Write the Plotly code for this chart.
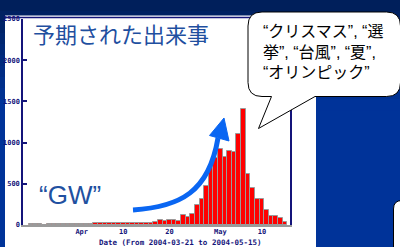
import plotly.graph_objects as go
import pandas as pd

W, H = 400, 247

# ---------------- data ----------------
dates = list(pd.date_range("2004-03-21", "2004-05-15").strftime("%Y-%m-%d"))
counts = [
    12, 10, 12, 0, 10, 12, 10, 12, 15, 12, 15,            # Mar 21-31
    12, 15, 18, 25, 30, 25, 30, 28, 25, 30,               # Apr 1-10
    25, 30, 28, 25, 30, 25, 35, 55, 50, 60,               # Apr 11-20
    60, 50, 120, 95, 135, 240, 310, 470, 690, 815,        # Apr 21-30
    920, 820, 900, 890, 1110, 1410, 620, 445, 320, 310,   # May 1-10
    180, 115, 115, 80, 40,                                # May 11-15
]
y_tickvals = [0, 500, 1000, 1500, 2000, 2500]
y_ticktext = ["0", "500", "1000", "1500", "2000", "2500"]
x_tickvals = ["2004-04-01", "2004-04-10", "2004-04-20", "2004-05-01", "2004-05-10"]
x_ticktext = ["Apr", "10", "20", "May", "10"]
title_text = "予期された出来事"
gw_text = "“GW”"
bubble_lines = ["“クリスマス”, “選", "挙”, “台風”, “夏”,", "“オリンピック”"]
xlabel_text = "Date (From 2004-03-21 to 2004-05-15)"

# ---------------- helpers (pixel -> paper) ----------------
def X(px):
    return px / W

def Y(py):
    return 1 - py / H

def pth(cmds):
    out = []
    for c in cmds:
        if isinstance(c, str):
            out.append(c)
        else:
            out.append("%.5f,%.5f" % (X(c[0]), Y(c[1])))
    return " ".join(out)

NAVY = "#14147a"
tickfont = dict(family="DejaVu Sans Mono", size=7, color=NAVY, weight="bold")

fig = go.Figure(
    go.Bar(
        x=dates, y=counts,
        marker=dict(color="#ff0000", line=dict(color="#9a9a9a", width=1)),
        hoverinfo="skip",
    )
)

shapes = []
# background gradient bands
c0 = (0x00, 0x1f, 0x5b)
c1 = (0x00, 0x33, 0x99)
nb = 10
for i in range(nb):
    t = i / (nb - 1)
    col = "rgb(%d,%d,%d)" % tuple(round(a + (b - a) * t) for a, b in zip(c0, c1))
    shapes.append(dict(type="rect", xref="paper", yref="paper", layer="below",
                       x0=0, x1=1, y0=Y(i * 11), y1=Y(i * 11 + 11.5),
                       fillcolor=col, line=dict(width=0)))
# white panel
shapes.append(dict(type="rect", xref="paper", yref="paper", layer="below",
                   x0=X(5), x1=X(316), y0=Y(247), y1=Y(15.5),
                   fillcolor="white", line=dict(width=0)))
# navy line at top of panel
shapes.append(dict(type="line", xref="paper", yref="paper", layer="below",
                   x0=X(5), x1=X(316), y0=Y(17.5), y1=Y(17.5),
                   line=dict(color=NAVY, width=1.5)))
# bottom-right white box
shapes.append(dict(type="path", xref="paper", yref="paper", layer="above",
                   path=pth(["M", (393.5, 250), "L", (393.5, 209), "Q", (393.5, 200.5), (402, 200.5),
                             "L", (410, 200.5), "L", (410, 250), "Z"]),
                   fillcolor="white", line=dict(color="black", width=1)))
# speech bubble
x0b, x1b, y0b, y1b, r = 248, 400.5, 12, 96.5, 14
shapes.append(dict(type="path", xref="paper", yref="paper", layer="above",
                   path=pth(["M", (x0b + r, y0b), "L", (x1b - r, y0b), "Q", (x1b, y0b), (x1b, y0b + r),
                             "L", (x1b, y1b - r), "Q", (x1b, y1b), (x1b - r, y1b),
                             "L", (315, y1b), "L", (258.5, 128.5), "L", (271.5, y1b),
                             "L", (x0b + r, y1b), "Q", (x0b, y1b), (x0b, y1b - r),
                             "L", (x0b, y0b + r), "Q", (x0b, y0b), (x0b + r, y0b), "Z"]),
                   fillcolor="white", line=dict(color="black", width=1)))
# blue arrow shaft
ARROW = "#0a66f2"
shapes.append(dict(type="path", xref="paper", yref="paper", layer="above",
                   path=pth(["M", (133, 210), "C", (180, 207), (209, 192), (218, 138)]),
                   line=dict(color=ARROW, width=5), fillcolor="rgba(0,0,0,0)"))
# arrow head
shapes.append(dict(type="path", xref="paper", yref="paper", layer="above",
                   path=pth(["M", (209.5, 135.5), "L", (224, 118), "L", (229, 141), "Z"]),
                   fillcolor=ARROW, line=dict(color=ARROW, width=1)))

annotations = [
    dict(text=title_text, xref="paper", yref="paper", x=X(31), y=Y(33),
         xanchor="left", yanchor="middle", showarrow=False,
         font=dict(family="Noto Sans CJK JP", size=22, color="#1f4f9f")),
    dict(text=gw_text, xref="paper", yref="paper", x=X(37), y=Y(195),
         xanchor="left", yanchor="middle", showarrow=False,
         font=dict(family="Liberation Sans", size=26, color="#2150a0")),
    dict(text=xlabel_text, xref="paper", yref="paper", x=X(180), y=Y(242),
         xanchor="center", yanchor="middle", showarrow=False,
         font=dict(family="DejaVu Sans Mono", size=7.5, color=NAVY, weight="bold")),
]
for i, (line, yy) in enumerate(zip(bubble_lines, [31.5, 52.5, 72.5])):
    annotations.append(dict(text=line, xref="paper", yref="paper", x=X(261), y=Y(yy),
                            xanchor="left", yanchor="middle", showarrow=False,
                            font=dict(family="Liberation Sans, Noto Sans CJK JP", size=16, color="black")))

fig.update_layout(
    width=W, height=H, autosize=False,
    margin=dict(l=0, r=0, t=0, b=0, pad=0),
    paper_bgcolor="#003399", plot_bgcolor="rgba(0,0,0,0)",
    showlegend=False, bargap=0,
    shapes=shapes, annotations=annotations,
    xaxis=dict(type="date", range=["2004-03-19 07:00", "2004-05-16 02:00"],
               domain=[X(23), X(290)], showgrid=False, zeroline=False,
               showline=True, linecolor="#9a9a9a", linewidth=2,
               tickvals=x_tickvals, ticktext=x_ticktext, ticks="",
               tickfont=tickfont, fixedrange=True, automargin=False,
               ticklabelstandoff=-1),
    yaxis=dict(range=[0, 2500], domain=[Y(225), Y(19)], showgrid=False, zeroline=False,
               showline=True, linecolor=NAVY, linewidth=1.5, mirror=True,
               ticks="inside", ticklen=4, tickwidth=1.5, tickcolor=NAVY,
               tickvals=y_tickvals, ticktext=y_ticktext, tickfont=tickfont,
               fixedrange=True, automargin=False),
)

fig.write_html("out.html", config={"displayModeBar": False},
               post_script="document.body.style.margin='0';document.body.style.overflow='hidden';")
